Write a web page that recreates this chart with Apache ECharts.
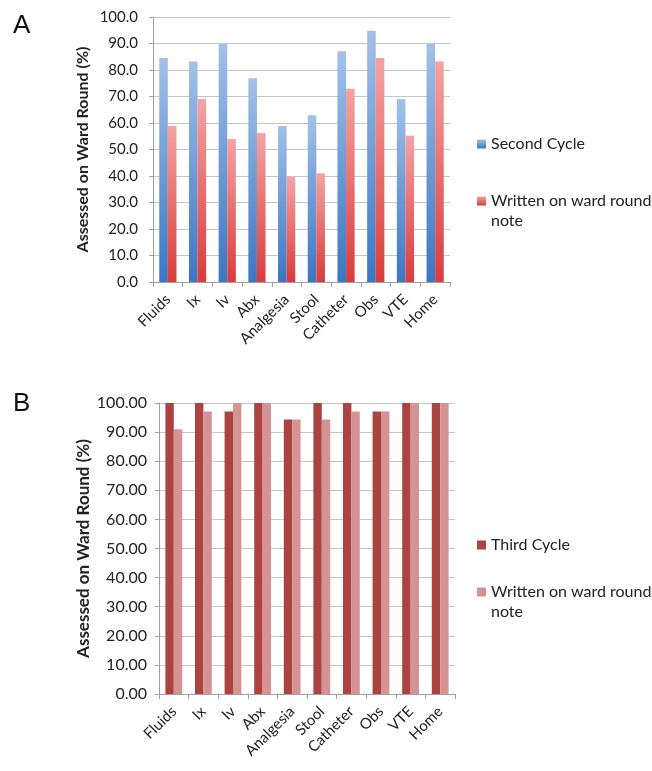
<!DOCTYPE html>
<html>
<head>
<meta charset="utf-8">
<script src="https://cdn.jsdelivr.net/npm/echarts@6/dist/echarts.min.js"></script>
<style>
html,body{margin:0;padding:0;background:#fff;}
#main{width:652px;height:771px;}
</style>
</head>
<body>
<div id="main"></div>
<script>
var categories = ['Fluids','Ix','Iv','Abx','Analgesia','Stool','Catheter','Obs','VTE','Home'];
var secondCycle = [84.5, 83.2, 89.8, 76.9, 58.9, 62.9, 87.1, 94.8, 69.1, 89.8];
var writtenA = [58.9, 69.1, 54.0, 56.2, 39.7, 41.0, 72.9, 84.5, 55.2, 83.2];
var thirdCycle = [100, 100, 97.1, 100, 94.3, 100, 100, 97.1, 100, 100];
var writtenB = [91.0, 97.1, 100, 100, 94.3, 94.3, 97.1, 97.1, 100, 100];

var FONT = 'Lato, "Open Sans", sans-serif';
var chart = echarts.init(document.getElementById('main'), null, {renderer:'canvas'});

function grad(top, bottom){
  return new echarts.graphic.LinearGradient(0,0,0,1,[{offset:0,color:top},{offset:1,color:bottom}]);
}
function yAxis(gridIndex, decimals, gap, nameSize, labelSize, margin){
  return {
    type:'value', gridIndex:gridIndex, min:0, max:100, interval:10,
    name:'Assessed on Ward Round (%)', nameLocation:'middle', nameGap:gap, nameRotate:90,
    nameTextStyle:{fontFamily:FONT, fontWeight:'bold', fontSize:nameSize, color:'#222'},
    axisLine:{show:true, lineStyle:{color:'#a0a0a0'}},
    axisTick:{show:true, length:4, lineStyle:{color:'#a0a0a0'}},
    axisLabel:{fontFamily:FONT, fontSize:labelSize, color:'#222', margin:margin, formatter:function(v){return v.toFixed(decimals);}},
    splitLine:{show:true, lineStyle:{color:'#c4c4c4'}}
  };
}
function xAxis(gridIndex){
  return {
    type:'category', gridIndex:gridIndex, data:categories,
    axisLine:{show:true, lineStyle:{color:'#a0a0a0'}},
    axisTick:{show:true, length:5, alignWithLabel:false, lineStyle:{color:'#a0a0a0'}},
    axisLabel:{fontFamily:FONT, fontSize:15, color:'#222', rotate:45, interval:0, margin:15}
  };
}
var legendText = {fontFamily:FONT, fontSize:16, color:'#222', lineHeight:20};
function legend(name, top, wrap){
  var l = {data:[name], left:477, top:top, padding:0, itemWidth:9, itemHeight:9, itemGap:0, icon:'rect', textStyle:legendText};
  // blank first line keeps the marker level with the first text line
  if (wrap) l.formatter = function(){ return ' \nWritten on ward round\nnote'; };
  return l;
}

var option = {
  animation:false,
  backgroundColor:'#fff',
  title:[
    {text:'A', left:8, top:8, textStyle:{fontFamily:'"Liberation Sans", Arial, sans-serif', fontSize:26, fontWeight:'normal', color:'#111'}},
    {text:'B', left:8, top:386, textStyle:{fontFamily:'"Liberation Sans", Arial, sans-serif', fontSize:26, fontWeight:'normal', color:'#111'}}
  ],
  grid:[
    {left:153, top:17, width:297, height:265, containLabel:false},
    {left:159, top:403, width:296, height:291, containLabel:false}
  ],
  xAxis:[xAxis(0), xAxis(1)],
  yAxis:[yAxis(0,1,62,16,15,15), yAxis(1,2,67,17,16,12)],
  legend:[
    legend('Second Cycle', 134, false),
    legend('Written on ward round note', 171, true),
    legend('Third Cycle', 535, false),
    legend('Written on ward round note ', 562, true)
  ],
  series:[
    {name:'Second Cycle', type:'bar', xAxisIndex:0, yAxisIndex:0, data:secondCycle,
      barWidth:8.6, barGap:'0%', itemStyle:{color:grad('#a3c1e8','#3b76c2')}},
    {name:'Written on ward round note', type:'bar', xAxisIndex:0, yAxisIndex:0, data:writtenA,
      barWidth:8.6, barGap:'0%', itemStyle:{color:grad('#f5a3a3','#d83c3c')}},
    {name:'Third Cycle', type:'bar', xAxisIndex:1, yAxisIndex:1, data:thirdCycle,
      barWidth:8.4, barGap:'0%', itemStyle:{color:'#ab4341'}},
    {name:'Written on ward round note ', type:'bar', xAxisIndex:1, yAxisIndex:1, data:writtenB,
      barWidth:8.4, barGap:'0%', itemStyle:{color:'#d59393'}}
  ]
};
chart.setOption(option);
</script>
</body>
</html>
